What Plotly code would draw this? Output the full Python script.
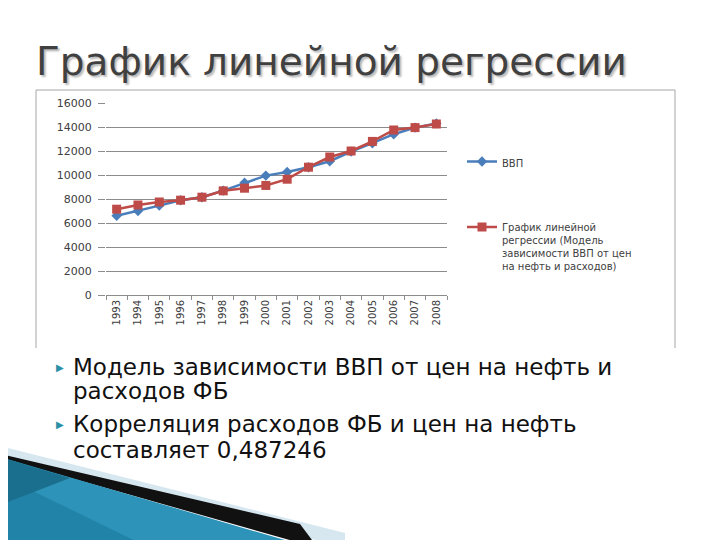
import plotly.graph_objects as go

years = [str(y) for y in range(1993, 2009)]
gdp = [6600, 7000, 7450, 7900, 8150, 8700, 9350, 9950, 10250, 10650, 11150, 11950, 12650, 13400, 13950, 14300]
regression = [7150, 7500, 7750, 7900, 8150, 8680, 8900, 9130, 9650, 10650, 11500, 12000, 12800, 13750, 13950, 14250]
y_ticks = [0, 2000, 4000, 6000, 8000, 10000, 12000, 14000, 16000]

title_text = "График линейной регрессии"
name_gdp = "ВВП"
name_reg = "График линейной<br>регрессии (Модель<br>зависимости ВВП от цен<br>на нефть и расходов)"
bullet_lines = [["Модель зависимости ВВП от цен на нефть и", "расходов ФБ"],
                ["Корреляция расходов ФБ и цен на нефть", "составляет 0,487246"]]

W, H = 720, 540
OFF = 8  # page body margin
L, R, T, B = 106 - OFF, 447 - OFF, 103 - OFF, 295 - OFF


def px(x):
    return (x - OFF - L) / (R - L)


def py(y):
    return (B - (y - OFF)) / (B - T)


fig = go.Figure()
fig.add_trace(go.Scatter(
    x=years, y=gdp, name=name_gdp, mode="lines+markers", showlegend=True,
    line=dict(color="#4a7ebb", width=2.5),
    marker=dict(symbol="diamond", size=8, color="#4a7ebb"),
    legend="legend"))
fig.add_trace(go.Scatter(
    x=years, y=regression, name=name_reg, mode="lines+markers", showlegend=True,
    line=dict(color="#be4b48", width=2.5),
    marker=dict(symbol="square", size=9, color="#be4b48"),
    legend="legend2"))

shapes = []
frame = "#a6a6a6"
shapes.append(dict(type="line", xref="paper", yref="paper", x0=px(36), x1=px(36), y0=py(90), y1=py(348), line=dict(color=frame, width=1)))
shapes.append(dict(type="line", xref="paper", yref="paper", x0=px(36), x1=px(675), y0=py(90), y1=py(90), line=dict(color=frame, width=1)))
shapes.append(dict(type="line", xref="paper", yref="paper", x0=px(675), x1=px(675), y0=py(90), y1=py(348), line=dict(color=frame, width=1)))


def poly(points, color):
    d = "M " + " L ".join(f"{px(a)},{py(b)}" for a, b in points) + " Z"
    return dict(type="path", xref="paper", yref="paper", path=d, fillcolor=color, line=dict(width=0), layer="above")


# decorative swoosh bottom-left
shapes.append(poly([(0, 446), (345, 533), (345, 548), (0, 454)], "#d6e7f0"))
shapes.append(poly([(0, 454), (300, 524), (318, 548), (0, 458)], "#111111"))
shapes.append(poly([(0, 457), (295, 543), (295, 548), (0, 548)], "#2d93b8"))
shapes.append(poly([(0, 475), (150, 548), (0, 548)], "#2283a8"))
shapes.append(poly([(0, 457), (70, 478), (0, 505)], "#1b6f8e"))

annotations = []
annotations.append(dict(text=title_text, xref="paper", yref="paper", x=px(34), y=py(62), xanchor="left", yanchor="middle",
                        showarrow=False,
                        font=dict(family="DejaVu Sans", size=39, color="#404040", shadow="2px 2px 2px #b8b8b8")))

line_y = [[367, 391], [424, 450]]
for lines, ys in zip(bullet_lines, line_y):
    for txt, yy in zip(lines, ys):
        annotations.append(dict(text=txt, xref="paper", yref="paper", x=px(71), y=py(yy), xanchor="left", yanchor="middle",
                                showarrow=False, font=dict(family="DejaVu Sans", size=23, color="#111111")))
    annotations.append(dict(text="▶", xref="paper", yref="paper", x=px(60), y=py(ys[0]), xanchor="center", yanchor="middle",
                            showarrow=False, font=dict(family="DejaVu Sans", size=10, color="#2b8fa8")))

fig.update_layout(
    width=W, height=H,
    margin=dict(l=L, r=W - R, t=T, b=H - B, pad=0, autoexpand=False),
    paper_bgcolor="white", plot_bgcolor="white", showlegend=True,
    shapes=shapes, annotations=annotations,
    xaxis=dict(type="category", range=[-0.5, len(years) - 0.5], tickangle=-90, tickson="boundaries",
               ticks="outside", ticklen=4,
               tickcolor="#8c8c8c", showgrid=False, showline=True, linecolor="#8c8c8c",
               tickfont=dict(family="DejaVu Sans", size=10, color="#404040")),
    yaxis=dict(range=[0, 16000], tickvals=y_ticks, ticktext=[str(v) for v in y_ticks],
               showgrid=True, gridcolor="#8c8c8c", gridwidth=1, ticks="outside", ticklen=7,
               tickcolor="#8c8c8c", zeroline=False, showline=False, ticklabelstandoff=4,
               tickfont=dict(family="DejaVu Sans", size=11, color="#404040")),
    legend=dict(x=px(462), y=py(163), xanchor="left", yanchor="middle", bgcolor="rgba(0,0,0,0)",
                font=dict(family="DejaVu Sans", size=10, color="#404040"), valign="top"),
    legend2=dict(x=px(462), y=py(214), xanchor="left", yanchor="top", bgcolor="rgba(0,0,0,0)",
                 font=dict(family="DejaVu Sans", size=10, color="#404040"), valign="top"),
)

fig.write_html("out.html")
